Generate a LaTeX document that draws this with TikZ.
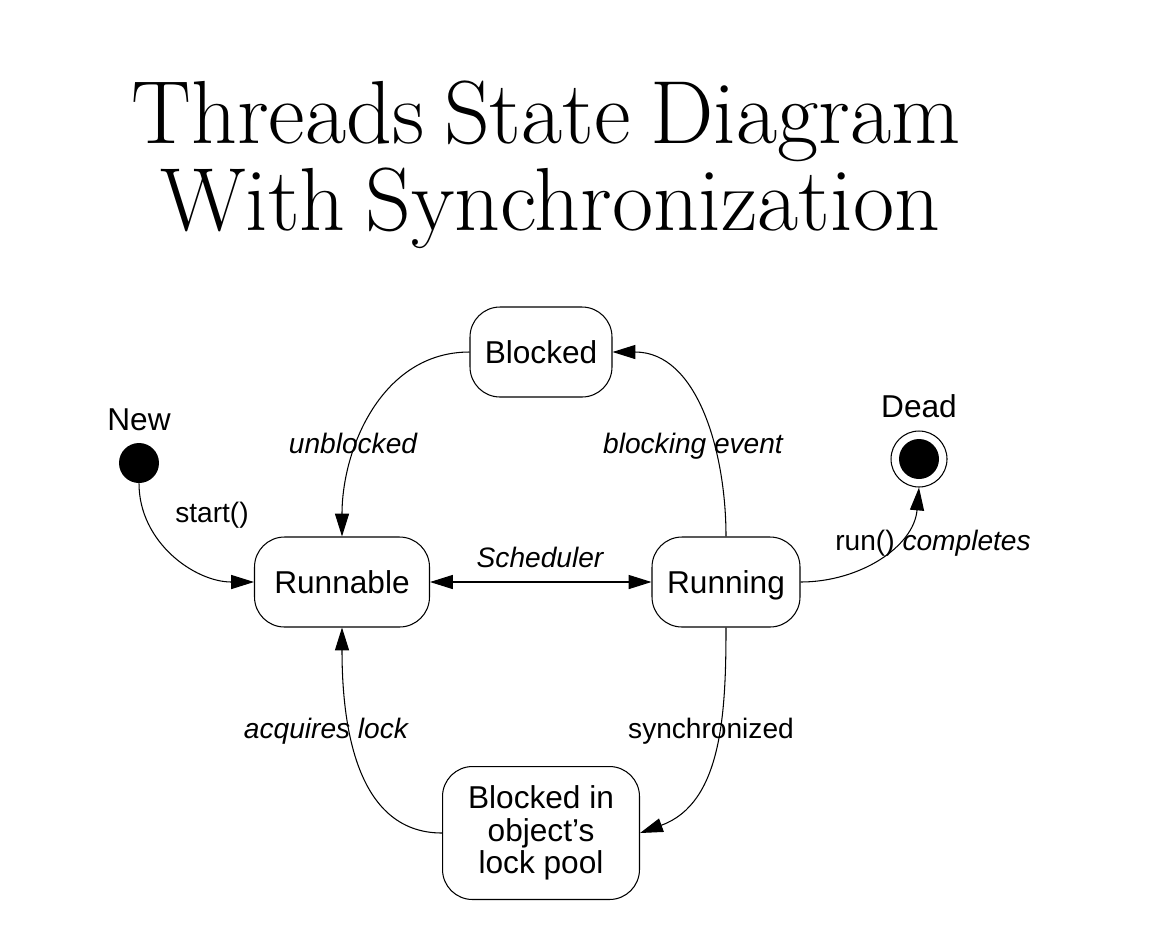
\documentclass[tikz,border=0pt]{standalone}
\usepackage{fontspec}
\newfontfamily\arialfont{Liberation Sans}
\usetikzlibrary{arrows.meta}
\newcommand{\titlefont}{\fontsize{51}{53}\selectfont\spaceskip=0.22em plus 0.05em\relax}

\tikzset{
  statebox/.style={draw, line width=0.6pt, rounded corners=0.6cm, align=center,
    font=\arialfont\fontsize{18}{18.5}\selectfont},
  lbl/.style={anchor=base, inner sep=0pt, font=\arialfont\itshape\fontsize{16}{16}\selectfont},
  lblup/.style={lbl, font=\arialfont\upshape\fontsize{16}{16}\selectfont},
  titletxt/.style={anchor=base, inner sep=0pt, font=\titlefont},
  arr/.style={line width=0.6pt, -{Triangle[length=13pt,width=8pt]}},
}

\begin{document}
\begin{tikzpicture}[x=0.02cm,y=-0.02cm]
\useasboundingbox (0,0) rectangle (1175,951);
% title
\node[titletxt] (title1) at (546,143) {Threads State Diagram};
\node[titletxt] (title2) at (550,230) {With Synchronization};
% states
\node[statebox, minimum width=2.84cm, minimum height=1.8cm] (blocked) at (541,352) {Blocked};
\node[statebox, minimum width=3.5cm, minimum height=1.8cm] (runnable) at (342,582) {Runnable};
\node[statebox, minimum width=2.96cm, minimum height=1.8cm, text depth=0pt] (running) at (726,582) {Running};
\node[statebox, minimum width=3.94cm, minimum height=2.66cm] (lockpool) at (541,833) {Blocked in\\object’s\\lock pool};
\node[circle, fill, minimum size=0.8cm, inner sep=0pt] (new) at (139,463) {};
\node[circle, draw, line width=0.6pt, minimum size=1.12cm, inner sep=0pt,
  path picture={\fill (path picture bounding box.center) circle (0.4cm);}] (dead) at (919,459) {};
\node[lblup, font=\arialfont\fontsize{18}{18}\selectfont] (newtxt) at (139,430) {New};
\node[lblup, font=\arialfont\fontsize{18}{18}\selectfont] (deadtxt) at (919,417) {Dead};
% transitions
\draw[arr] (new) to[out=-90,in=180] (runnable.west);
\draw[arr] (blocked.west) to[out=180,in=90] (runnable.north);
\draw[arr] (running.north) to[out=90,in=0] (blocked.east);
\draw[arr, {Triangle[length=13pt,width=8pt]}-{Triangle[length=13pt,width=8pt]}] (runnable) -- (running);
\draw[arr] (running.east) to[out=0,in=-95] (dead.south);
\draw[arr] (running.south) to[out=-90,in=20] (lockpool.east);
\draw[arr] (lockpool.west) to[out=180,in=-90] (runnable.south);
% labels
\node[lblup] (l1) at (212,522) {start()};
\node[lbl] (l2) at (353,453) {unblocked};
\node[lbl] (l3) at (693,453) {blocking event};
\node[lbl] (l4) at (540,567) {Scheduler};
\node[lblup] (l5) at (933,550) {run() \textit{completes}};
\node[lblup] (l6) at (711,738) {synchronized};
\node[lbl] (l7) at (326,738) {acquires lock};
\end{tikzpicture}
\end{document}
